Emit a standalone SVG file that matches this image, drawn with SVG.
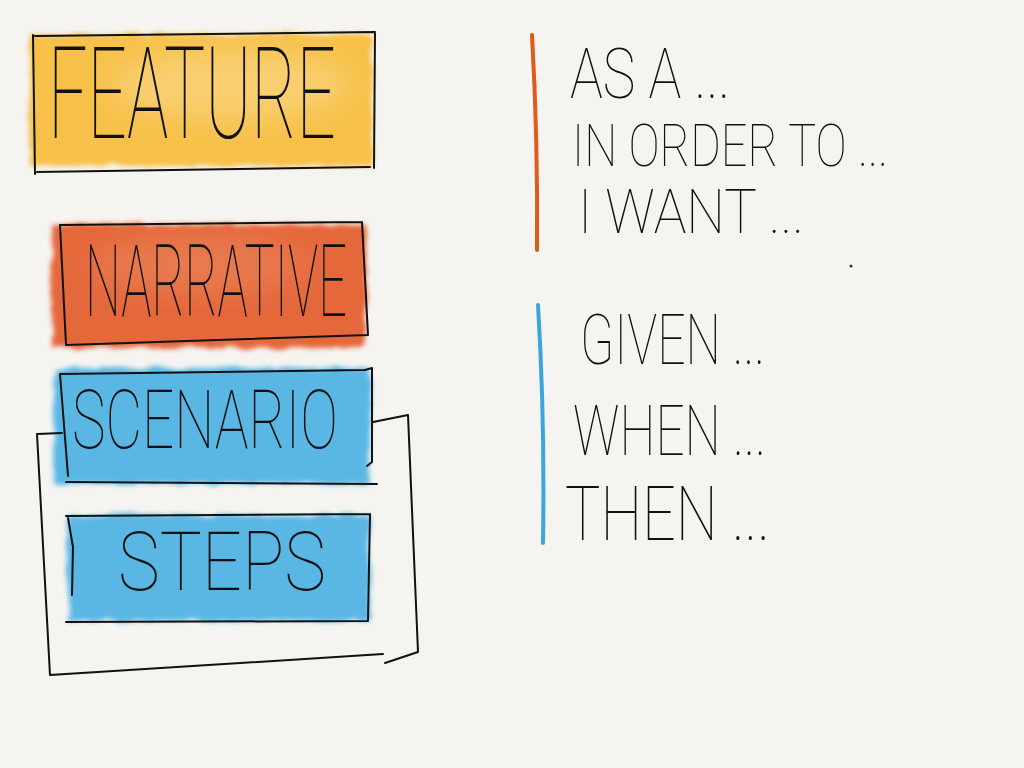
<svg xmlns="http://www.w3.org/2000/svg" width="1024" height="768" viewBox="0 0 1024 768">
<defs>
<filter id="wc" x="-10%" y="-20%" width="120%" height="140%">
<feTurbulence type="fractalNoise" baseFrequency="0.05" numOctaves="3" seed="3" result="n"/>
<feDisplacementMap in="SourceGraphic" in2="n" scale="8" result="d"/>
<feGaussianBlur in="d" stdDeviation="2.5"/>
</filter>
<filter id="soft" x="-20%" y="-30%" width="140%" height="160%">
<feGaussianBlur stdDeviation="14"/>
</filter>
<style>
.ln{fill:none;stroke:#111;stroke-width:2;stroke-linecap:round;stroke-linejoin:round}
.t{font-family:Roboto,Lato,Inter,"DejaVu Sans",sans-serif;fill:#111;font-weight:100}
</style>
</defs>
<rect width="1024" height="768" fill="#f5f4f1"/>

<g id="feature">
<rect x="30" y="34" width="342" height="132" fill="#f7c14a" filter="url(#wc)"/>
<ellipse cx="230" cy="85" rx="120" ry="35" fill="#fad88a" opacity="0.6" filter="url(#soft)"/>
<path class="ln" d="M35 36 L375 32 M33 35 L35 174 M37 172 L370 167 M375 33 L374 168"/>
<text class="t" x="48" y="138" font-size="128" textLength="288" lengthAdjust="spacingAndGlyphs">FEATURE</text>
</g>

<g id="narrative">
<rect x="52" y="224" width="314" height="124" fill="#e5683a" filter="url(#wc)"/>
<ellipse cx="200" cy="265" rx="110" ry="28" fill="#ec8c62" opacity="0.5" filter="url(#soft)"/>
<path class="ln" d="M60 225 L362 222 M60 225 L66 345 M66 345 L368 335 M362 222 L368 335"/>
<text class="t" x="85" y="316" font-size="100" textLength="262" lengthAdjust="spacingAndGlyphs">NARRATIVE</text>
</g>

<g id="scenario">
<rect x="54" y="368" width="316" height="116" fill="#5ab7e4" filter="url(#wc)"/>
<path class="ln" d="M60 374 L365 370 M60 374 L68 476 M365 370 L372 368 L372 462 L367 466 M66 482 L377 484"/>
<text class="t" x="72" y="448" font-size="82" textLength="266" lengthAdjust="spacingAndGlyphs">SCENARIO</text>
</g>

<g id="steps">
<rect x="68" y="515" width="302" height="106" fill="#5ab7e4" filter="url(#wc)"/>
<path class="ln" d="M66 516 L370 514 M68 518 L73 547 L72 595 M370 514 L368 620 M66 622 L368 621"/>
<text class="t" x="118" y="590" font-size="82" textLength="208" lengthAdjust="spacingAndGlyphs">STEPS</text>
</g>

<g id="connectors">
<path class="ln" d="M62 433 L37 434 L50 675 L383 654"/>
<path class="ln" d="M373 422 L408 415 L418 652 L385 663"/>
</g>

<g id="narrative-lines">
<path d="M532 35 Q538 140 537 250" fill="none" stroke="#e05a1a" stroke-width="4" stroke-linecap="round"/>
<text class="t" x="570" y="98" font-size="70" textLength="160" lengthAdjust="spacingAndGlyphs">AS A ...</text>
<text class="t" x="572" y="166" font-size="60" textLength="316" lengthAdjust="spacingAndGlyphs">IN ORDER TO ...</text>
<text class="t" x="578" y="233" font-size="62" textLength="226" lengthAdjust="spacingAndGlyphs">I WANT ...</text>
<circle cx="851" cy="266" r="1.5" fill="#333"/>
</g>

<g id="step-lines">
<path d="M538 305 Q545 420 543 543" fill="none" stroke="#3aa6dc" stroke-width="4" stroke-linecap="round"/>
<text class="t" x="580" y="364" font-size="70" textLength="185" lengthAdjust="spacingAndGlyphs">GIVEN ...</text>
<text class="t" x="573" y="455" font-size="70" textLength="193" lengthAdjust="spacingAndGlyphs">WHEN ...</text>
<text class="t" x="565" y="540" font-size="76" textLength="205" lengthAdjust="spacingAndGlyphs">THEN ...</text>
</g>
</svg>
